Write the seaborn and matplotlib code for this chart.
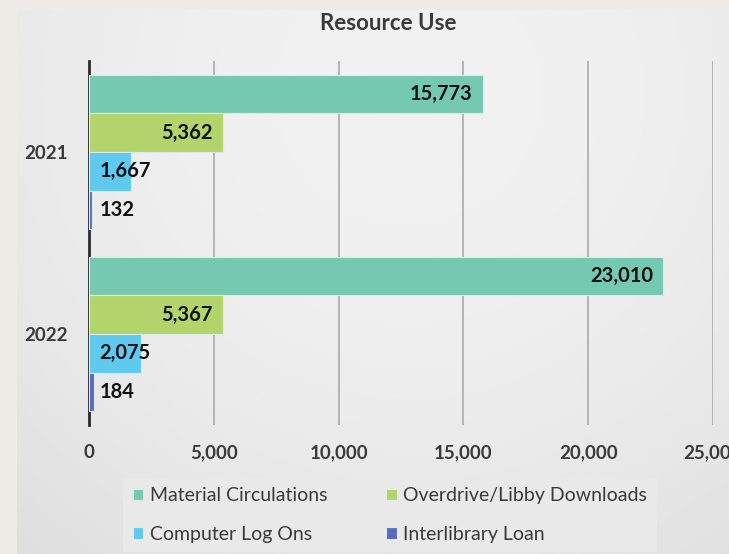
import numpy as np
import pandas as pd
import seaborn as sns
import matplotlib
matplotlib.use('Agg')
import matplotlib.pyplot as plt
from matplotlib.ticker import FuncFormatter

years = ['2021', '2022']
resources = ['Material Circulations', 'Overdrive/Libby Downloads',
             'Computer Log Ons', 'Interlibrary Loan']
material = [15773, 23010]
overdrive = [5362, 5367]
computer = [1667, 2075]
interlibrary = [132, 184]
colors = ['#76C9B1', '#B3D46A', '#5FC9F0', '#5A6AC0']

df = pd.DataFrame({
    'Year': years * 4,
    'Resource': [r for r in resources for _ in years],
    'Count': material + overdrive + computer + interlibrary,
})

sns.set_theme(style='white')
plt.rcParams['font.family'] = ['Lato', 'DejaVu Sans']

fig = plt.figure(figsize=(7.29, 5.54), dpi=100)
fig.patch.set_facecolor('#efece8')

# chart area background with a soft gray gradient
bg = fig.add_axes([17 / 729, 0, 1 - 17 / 729, 1 - 10 / 554])
yy, xx = np.mgrid[0:1:200j, 0:1:200j]
shade = 0.945 - 0.1 * ((xx - 0.55) ** 2 + 0.6 * (yy - 0.15) ** 2)
bg.imshow(shade, cmap='gray', vmin=0, vmax=1, aspect='auto', extent=(0, 1, 0, 1))
bg.set_axis_off()

ax = fig.add_axes([89 / 729, 1 - 425 / 554, 624 / 729, 364 / 554])
ax.patch.set_alpha(0)
sns.barplot(data=df, y='Year', x='Count', hue='Resource', hue_order=resources,
            order=years, palette=colors, orient='h', width=0.85, gap=0,
            saturation=1, linewidth=0.8, edgecolor='#d8eee6', ax=ax, zorder=3)

ax.set_xlim(0, 25000)
ax.set_xticks(range(0, 25001, 5000))
ax.xaxis.set_major_formatter(FuncFormatter(lambda v, p: f'{int(v):,}'))
ax.grid(axis='x', color='#b0b0b0', lw=1.3, zorder=0)
ax.set_axisbelow(True)
ax.set_xlabel('')
ax.set_ylabel('')
ax.tick_params(axis='x', length=0, pad=14, labelsize=13.5, labelcolor='#3a3a3a')
ax.tick_params(axis='y', length=0, pad=15, labelsize=13.5, labelcolor='#3a3a3a')
for lab in ax.get_xticklabels() + ax.get_yticklabels():
    lab.set_fontweight('bold')
for s in ['top', 'right', 'bottom']:
    ax.spines[s].set_visible(False)
ax.spines['left'].set_color('#2a2a2a')
ax.spines['left'].set_linewidth(2)

for container in ax.containers:
    for bar, v in zip(container, container.datavalues):
        yc = bar.get_y() + bar.get_height() / 2
        if v > 3000:
            ax.text(v - 420, yc, f'{int(v):,}', ha='right', va='center',
                    fontsize=14.5, fontweight='bold', color='#111111', zorder=5)
        else:
            ax.text(420, yc, f'{int(v):,}', ha='left', va='center',
                    fontsize=14.5, fontweight='bold', color='#111111', zorder=5)

handles, labels = ax.get_legend_handles_labels()
ax.legend_.remove()
order = [0, 2, 1, 3]
leg = fig.legend([handles[i] for i in order], [labels[i] for i in order],
                 ncol=2, loc='center', bbox_to_anchor=(390 / 729, 1 - 515 / 554),
                 frameon=True, fontsize=14, handlelength=0.55, handleheight=0.55,
                 handletextpad=0.35, columnspacing=3.0, labelspacing=1.1,
                 borderpad=0.5, fancybox=False)
leg.get_frame().set_facecolor('#e9e9e9')
leg.get_frame().set_edgecolor('none')
leg.get_frame().set_alpha(1)
for t in leg.get_texts():
    t.set_color('#3a3a3a')

fig.text(388 / 729, 1 - 24 / 554, 'Resource Use', ha='center', va='center',
         fontsize=16, fontweight='bold', color='#3a3a3a')

fig.savefig('out.png', dpi=100)
